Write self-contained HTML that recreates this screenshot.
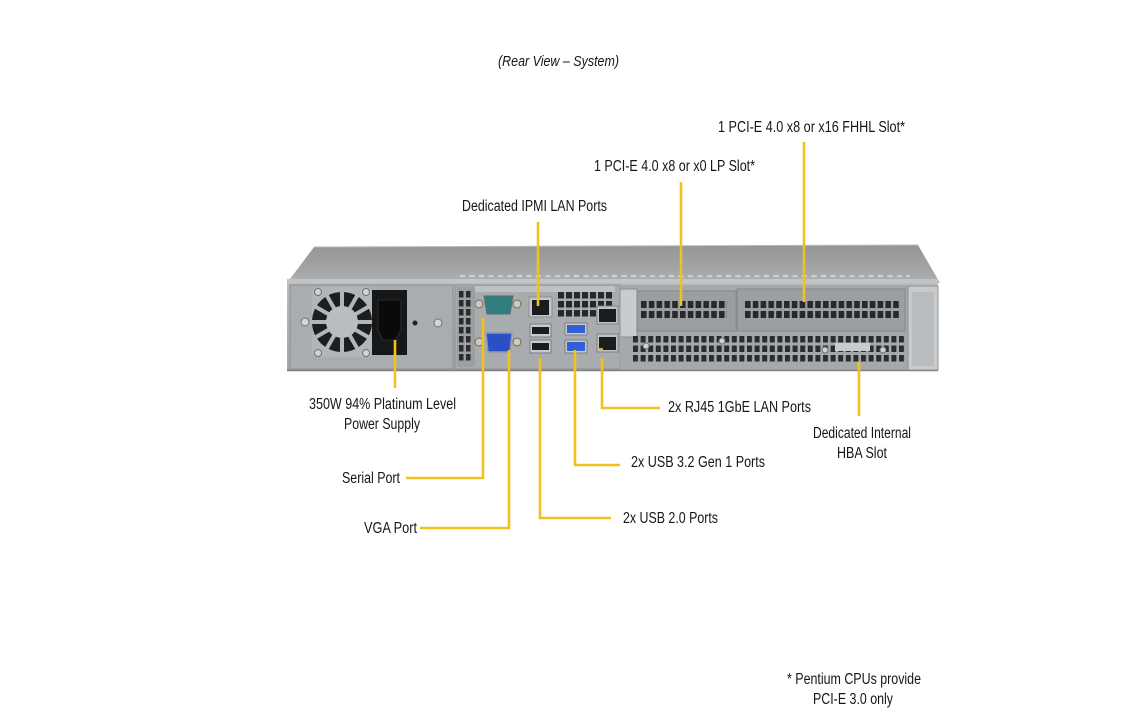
<!DOCTYPE html>
<html><head><meta charset="utf-8"><style>
html,body{margin:0;padding:0;background:#fff;}
svg{display:block;}
text{font-family:"Liberation Sans",Arial,sans-serif;fill:#161616;}
</style></head><body>
<svg width="1144" height="720" viewBox="0 0 1144 720" xmlns="http://www.w3.org/2000/svg">
<defs>
<linearGradient id="lid" x1="0" y1="0" x2="0" y2="1"><stop offset="0" stop-color="#939597"/><stop offset="0.7" stop-color="#a4a6a8"/><stop offset="1" stop-color="#b0b2b4"/></linearGradient>
<linearGradient id="face" x1="0" y1="0" x2="0" y2="1"><stop offset="0" stop-color="#b9bcbe"/><stop offset="1" stop-color="#a4a7a9"/></linearGradient>
<pattern id="pLP" patternUnits="userSpaceOnUse" x="641" y="301" width="7.8" height="10"><rect width="5.6" height="7" fill="#26282a"/></pattern>
<pattern id="pFH" patternUnits="userSpaceOnUse" x="745" y="301" width="7.8" height="10"><rect width="5.6" height="7" fill="#26282a"/></pattern>
<pattern id="pLow" patternUnits="userSpaceOnUse" x="633" y="336" width="7.6" height="9.5"><rect width="5" height="6.5" fill="#2a2c2e"/></pattern>
<pattern id="pIO" patternUnits="userSpaceOnUse" x="558" y="292" width="8" height="9"><rect width="6" height="6.5" fill="#26282a"/></pattern>
<pattern id="pLeft" patternUnits="userSpaceOnUse" x="459" y="291" width="7" height="9"><rect width="4.5" height="6.5" fill="#2a2c2e"/></pattern>
<pattern id="pPerf" patternUnits="userSpaceOnUse" x="460" y="275" width="9.5" height="4"><rect width="5" height="2.2" fill="#cfd1d3"/></pattern>
</defs>
<rect width="1144" height="720" fill="#fff"/>

<!-- Title -->
<text x="498" y="66" font-size="14.5" font-style="italic" textLength="121" lengthAdjust="spacingAndGlyphs">(Rear View – System)</text>

<!-- Server lid -->
<polygon points="314,247 918,245 940,283 287,283" fill="url(#lid)"/>
<line x1="314" y1="247" x2="918" y2="245" stroke="#b8babc" stroke-width="1"/>
<rect x="460" y="275" width="450" height="3" fill="url(#pPerf)"/>
<rect x="287" y="279" width="651" height="5" fill="#c2c4c6"/>

<!-- Face -->
<rect x="287" y="283" width="651" height="88" fill="url(#face)"/>
<line x1="287" y1="370.5" x2="938" y2="370.5" stroke="#7f8284" stroke-width="1.5"/>

<!-- PSU -->
<rect x="290" y="285" width="163" height="84" fill="#aaadaf" stroke="#8b8e90" stroke-width="1"/>
<rect x="312" y="287" width="60" height="70" rx="6" fill="#b3b6b8"/>
<circle cx="342" cy="322" r="30" fill="#1c1e20"/>
<g stroke="#b3b6b8" stroke-width="4">
<line x1="342" y1="322" x2="342" y2="290"/>
<line x1="342" y1="322" x2="358" y2="294.3"/>
<line x1="342" y1="322" x2="369.7" y2="306"/>
<line x1="342" y1="322" x2="374" y2="322"/>
<line x1="342" y1="322" x2="369.7" y2="338"/>
<line x1="342" y1="322" x2="358" y2="349.7"/>
<line x1="342" y1="322" x2="342" y2="354"/>
<line x1="342" y1="322" x2="326" y2="349.7"/>
<line x1="342" y1="322" x2="314.3" y2="338"/>
<line x1="342" y1="322" x2="310" y2="322"/>
<line x1="342" y1="322" x2="314.3" y2="306"/>
<line x1="342" y1="322" x2="326" y2="294.3"/>
</g>
<circle cx="342" cy="322" r="16" fill="#babdbf"/>
<g fill="#d2d4d6" stroke="#6f7274" stroke-width="1">
<circle cx="318" cy="292" r="3.5"/><circle cx="366" cy="292" r="3.5"/>
<circle cx="318" cy="353" r="3.5"/><circle cx="366" cy="353" r="3.5"/>
<circle cx="305" cy="322" r="4"/><circle cx="438" cy="323" r="4"/>
</g>
<circle cx="415" cy="323" r="2.5" fill="#222"/>
<rect x="372" y="290" width="35" height="65" fill="#161718"/>
<path d="M378 300 h23 v30 l-5 10 h-13 l-5 -10 z" fill="#0a0a0b" stroke="#2b2c2e" stroke-width="1"/>

<!-- I/O panel -->
<rect x="455" y="285" width="165" height="84" fill="#a9acae" stroke="#8e9193" stroke-width="1"/>
<rect x="457" y="287" width="18" height="80" fill="#9c9fa1"/>
<rect x="459" y="291" width="14" height="72" fill="url(#pLeft)"/>
<rect x="475" y="286" width="140" height="6" fill="#bfc2c4"/>
<!-- serial -->
<circle cx="479" cy="304" r="4" fill="#cfc9b8" stroke="#6e6a5e"/>
<circle cx="517" cy="304" r="4" fill="#cfc9b8" stroke="#6e6a5e"/>
<path d="M484 296 h29 l-3 18 h-23 z" fill="#2f7f82" stroke="#5c6d6e" stroke-width="1"/>
<!-- VGA -->
<circle cx="479" cy="342" r="4" fill="#cfc9b8" stroke="#6e6a5e"/>
<circle cx="517" cy="342" r="4" fill="#cfc9b8" stroke="#6e6a5e"/>
<path d="M486 333 h26 l-2 19 h-22 z" fill="#2b4fc4" stroke="#8e98b4" stroke-width="1.5"/>
<!-- IPMI RJ45 -->
<rect x="529" y="297" width="23" height="20" fill="#c4c6c8" stroke="#8a8c8e"/>
<rect x="532" y="300" width="17" height="15" fill="#1a1b1c"/>
<!-- USB2 -->
<rect x="530" y="324" width="21" height="13" fill="#c8cacc" stroke="#7a7c7e"/>
<rect x="532" y="327" width="17" height="7" fill="#1b1c1d"/>
<rect x="530" y="340" width="21" height="13" fill="#c8cacc" stroke="#7a7c7e"/>
<rect x="532" y="343" width="17" height="7" fill="#1b1c1d"/>
<!-- vent grid -->
<rect x="558" y="292" width="56" height="26" fill="url(#pIO)"/>
<!-- USB3 -->
<rect x="565" y="323" width="22" height="12" fill="#c8cacc" stroke="#7a7c7e"/>
<rect x="567" y="325" width="18" height="8" fill="#2d5fd6"/>
<rect x="565" y="340" width="22" height="13" fill="#c8cacc" stroke="#7a7c7e"/>
<rect x="567" y="342" width="18" height="9" fill="#2d5fd6"/>
<!-- LAN -->
<rect x="597" y="306" width="21" height="18" fill="#bfc1c3" stroke="#808284"/>
<rect x="599" y="309" width="17" height="13" fill="#1c1d1e"/>
<rect x="597" y="334" width="21" height="18" fill="#bfc1c3" stroke="#808284"/>
<rect x="599" y="337" width="17" height="13" fill="#1c1d1e"/>
<rect x="599" y="348" width="4" height="2" fill="#e0b020"/>

<!-- PCIe area -->
<rect x="620" y="285" width="290" height="84" fill="#a6a9ab"/>
<rect x="620" y="289" width="17" height="48" fill="#c9cbcd" stroke="#8c8f91"/>
<rect x="637" y="291" width="99" height="40" fill="#9b9ea0" stroke="#85888a"/>
<rect x="641" y="301" width="86" height="17" fill="url(#pLP)"/>
<rect x="737" y="289" width="168" height="42" fill="#9c9fa1" stroke="#85888a"/>
<rect x="745" y="301" width="156" height="17" fill="url(#pFH)"/>
<rect x="633" y="336" width="272" height="28" fill="url(#pLow)"/>
<rect x="835" y="343" width="35" height="8" fill="#c9cbcd"/>
<circle cx="646" cy="346" r="3" fill="#d0d2d4" stroke="#6f7274"/>
<circle cx="722" cy="341" r="3" fill="#d0d2d4" stroke="#6f7274"/>
<circle cx="825" cy="350" r="3" fill="#d0d2d4" stroke="#6f7274"/>
<circle cx="883" cy="350" r="3" fill="#d0d2d4" stroke="#6f7274"/>
<!-- right bracket -->
<rect x="908" y="286" width="30" height="84" fill="#c8cacc" stroke="#8f9294"/>
<rect x="912" y="292" width="22" height="74" fill="#b9bcbe"/>

<!-- Connector lines -->
<g fill="none" stroke="#f2c11d" stroke-width="2.6">
<line x1="395" y1="340" x2="395" y2="388"/>
<polyline points="483,318 483,478 406,478"/>
<polyline points="509,350 509,528 420,528"/>
<polyline points="540,358 540,518 611,518"/>
<polyline points="575,350 575,465 620,465"/>
<polyline points="602,358 602,408 660,408"/>
<line x1="538" y1="222" x2="538" y2="306"/>
<line x1="681" y1="182" x2="681" y2="306"/>
<line x1="804" y1="142" x2="804" y2="302"/>
<line x1="859" y1="362" x2="859" y2="416"/>
</g>

<!-- Labels -->
<g font-size="15.5">
<text x="718" y="132" textLength="187" lengthAdjust="spacingAndGlyphs">1 PCI-E 4.0 x8 or x16 FHHL Slot*</text>
<text x="594" y="171" textLength="161" lengthAdjust="spacingAndGlyphs">1 PCI-E 4.0 x8 or x0 LP Slot*</text>
<text x="462" y="211" textLength="145" lengthAdjust="spacingAndGlyphs">Dedicated IPMI  LAN Ports</text>
<text x="309" y="409" textLength="147" lengthAdjust="spacingAndGlyphs">350W 94% Platinum  Level</text>
<text x="344" y="429" textLength="76" lengthAdjust="spacingAndGlyphs">Power Supply</text>
<text x="342" y="483" textLength="58" lengthAdjust="spacingAndGlyphs">Serial Port</text>
<text x="364" y="533" textLength="53" lengthAdjust="spacingAndGlyphs">VGA Port</text>
<text x="668" y="412" textLength="143" lengthAdjust="spacingAndGlyphs">2x RJ45 1GbE LAN Ports</text>
<text x="813" y="438" textLength="98" lengthAdjust="spacingAndGlyphs">Dedicated Internal</text>
<text x="837" y="458" textLength="50" lengthAdjust="spacingAndGlyphs">HBA Slot</text>
<text x="631" y="467" textLength="134" lengthAdjust="spacingAndGlyphs">2x USB 3.2 Gen 1 Ports</text>
<text x="623" y="523" textLength="95" lengthAdjust="spacingAndGlyphs">2x USB 2.0 Ports</text>
<text x="787" y="684" textLength="134" lengthAdjust="spacingAndGlyphs">* Pentium  CPUs provide</text>
<text x="813" y="704" textLength="80" lengthAdjust="spacingAndGlyphs">PCI-E 3.0 only</text>
</g>
</svg>
</body></html>
